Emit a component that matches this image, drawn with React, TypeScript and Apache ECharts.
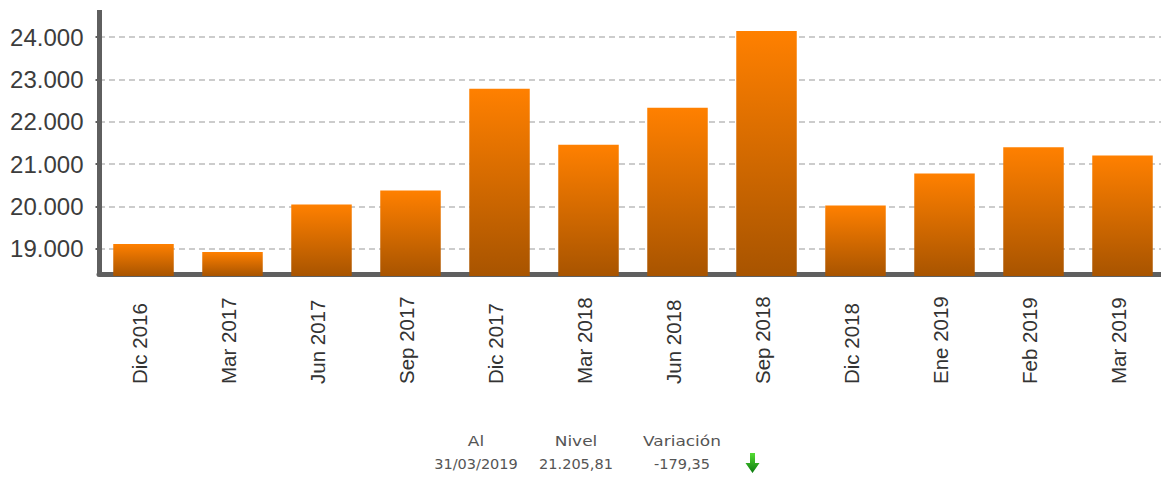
import React, { useEffect, useRef } from "react";
import * as echarts from "echarts";

const categories = ["Dic 2016", "Mar 2017", "Jun 2017", "Sep 2017", "Dic 2017", "Mar 2018", "Jun 2018", "Sep 2018", "Dic 2018", "Ene 2019", "Feb 2019", "Mar 2019"];
const values = [19118, 18929, 20047, 20377, 22780, 21460, 22330, 24140, 20024, 20778, 21400, 21205.81];
const tickValues = [19000, 20000, 21000, 22000, 23000, 24000];
const headerRow = ["Al", "Nivel", "Variación"];
const valueRow = ["31/03/2019", "21.205,81", "-179,35"];
const columnCentres = [476, 576, 682];

const formatThousands = (v: number) => String(Math.round(v)).replace(/\B(?=(\d{3})+$)/g, ".");

export default function App() {
  const ref = useRef<HTMLDivElement>(null);
  useEffect(() => {
    document.body.style.margin = "0";
    const chart = echarts.init(ref.current!, null, { renderer: "svg" });
    const footer: any[] = [];
    columnCentres.forEach((x, i) => {
      footer.push({ type: "text", x, y: 441, scaleX: 1.17, style: { fontFamily: "DejaVu Sans", fontSize: 14.5, fill: "#555555", text: headerRow[i], textAlign: "center", textVerticalAlign: "middle" } });
      footer.push({ type: "text", x, y: 464, style: { fontFamily: "DejaVu Sans", fontSize: 14.5, fill: "#555555", text: valueRow[i], textAlign: "center", textVerticalAlign: "middle" } });
    });
    footer.push({
      type: "polygon",
      shape: { points: [[750, 453], [755, 453], [755, 463], [759.5, 463], [752.5, 473], [745.5, 463], [750, 463]] },
      style: {
        fill: new echarts.graphic.LinearGradient(0, 0, 0, 1, [
          { offset: 0, color: "#55dd33" },
          { offset: 1, color: "#0c7a10" },
        ]),
      },
    });
    chart.setOption({
      animation: false,
      backgroundColor: "#ffffff",
      grid: { left: 99, top: 10, width: 1068, height: 266, containLabel: false, outerBoundsMode: "none" },
      graphic: footer,
      xAxis: {
        type: "category",
        data: categories,
        offset: -2,
        axisLine: { lineStyle: { color: "#5f5f5f", width: 5 } },
        axisTick: { show: false },
        axisLabel: {
          rotate: 90,
          interval: 0,
          margin: 110,
          align: "left",
          verticalAlign: "bottom",
          lineHeight: 8,
          color: "#333333",
          fontFamily: "Liberation Sans",
          fontSize: 20.5,
        },
      },
      yAxis: {
        type: "value",
        min: 18363,
        max: 24637,
        axisLine: { show: true, lineStyle: { color: "#5f5f5f", width: 5, cap: "butt" } },
        axisTick: { show: true, length: 3.5, customValues: tickValues, lineStyle: { color: "#5f5f5f", width: 2 } },
        axisLabel: {
          margin: 15.5,
          color: "#3c3c3c",
          fontFamily: "Liberation Sans",
          fontSize: 24,
          customValues: tickValues,
          formatter: (v: number) => formatThousands(v),
        },
        splitLine: { show: true, lineStyle: { color: "#cccccc", width: 2, type: [6, 4] } },
      },
      series: [
        {
          type: "bar",
          data: values,
          barWidth: 60.5,
          z: 5,
          itemStyle: {
            color: new echarts.graphic.LinearGradient(0, 0, 0, 1, [
              { offset: 0, color: "#ff8000" },
              { offset: 1, color: "#a85400" },
            ]),
          },
        },
      ],
    });
    return () => chart.dispose();
  }, []);
  return <div ref={ref} style={{ width: 1161, height: 477, overflow: "hidden" }} />;
}
